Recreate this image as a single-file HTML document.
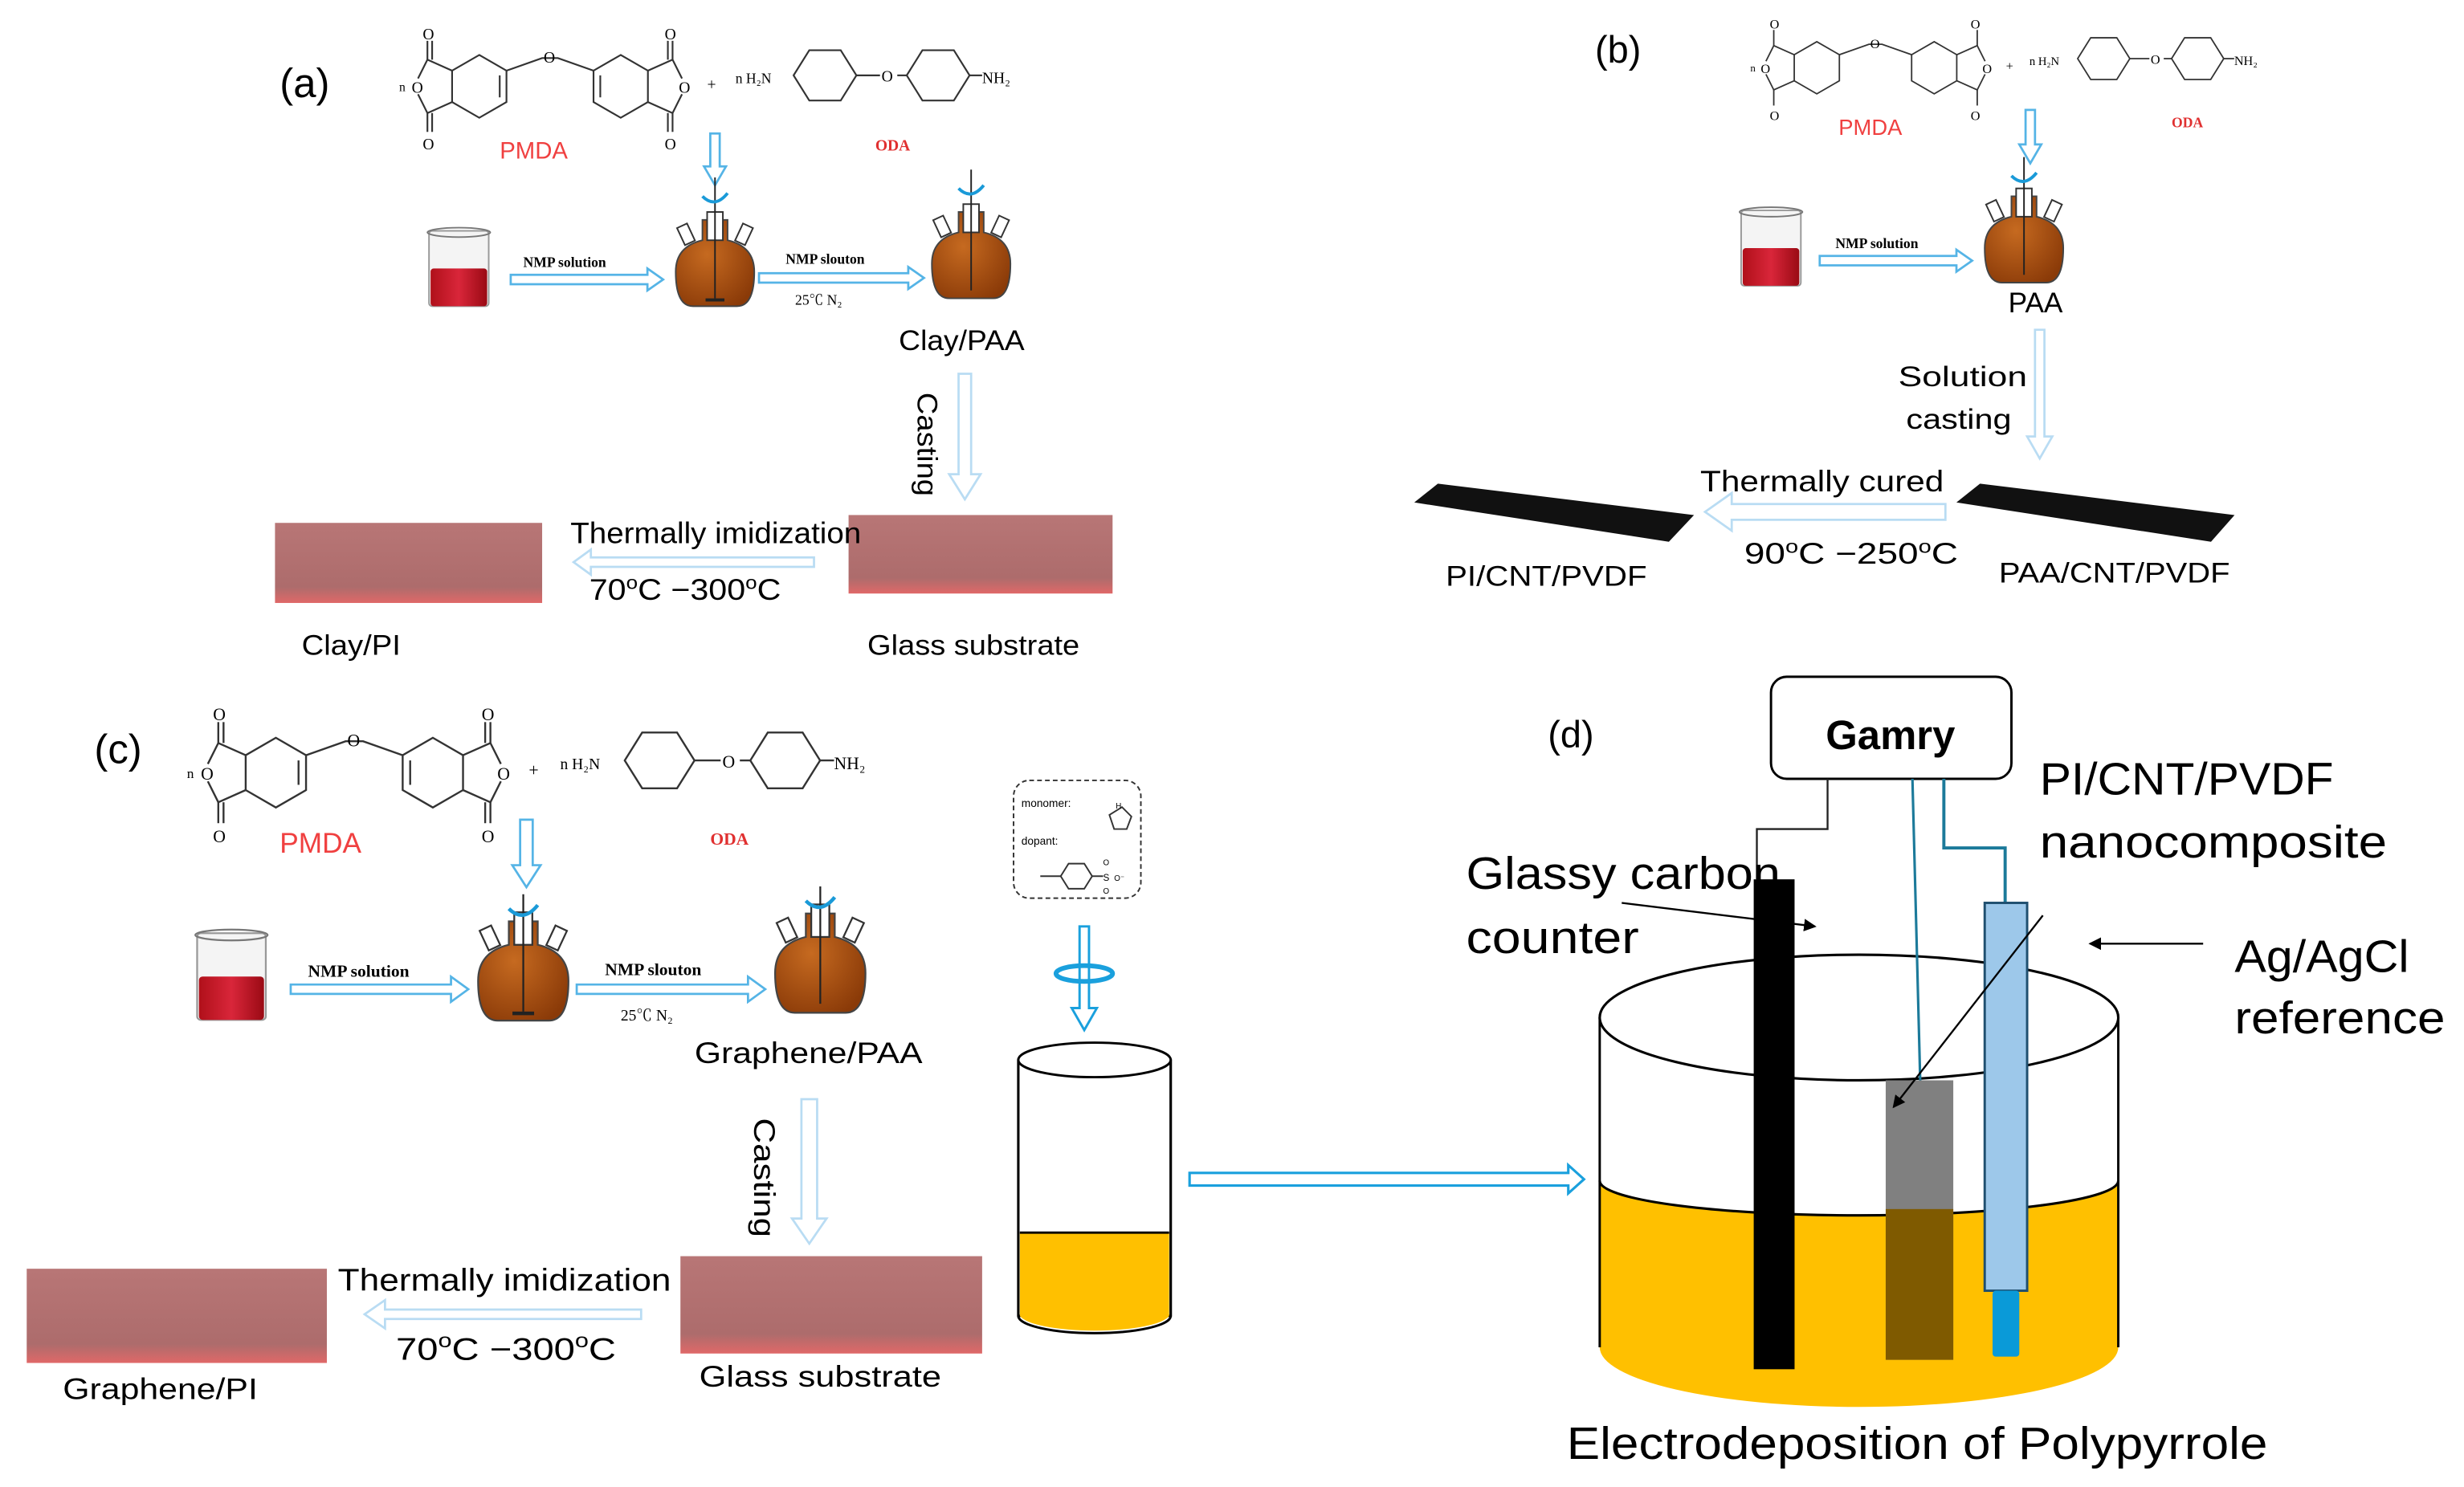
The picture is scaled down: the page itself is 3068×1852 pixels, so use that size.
<!DOCTYPE html>
<html><head><meta charset="utf-8"><style>
html,body{margin:0;padding:0;background:#fff;}
svg{display:block;}
text{font-family:"Liberation Sans","Noto Sans CJK SC",sans-serif;}
.ser{font-family:"Liberation Serif","Noto Serif CJK SC",serif;}
.ha{fill:#fff;stroke:#55b4e6;stroke-width:1.4;}
.hp{fill:#fff;stroke:#b9dcf3;stroke-width:1.4;}
.bd{fill:none;stroke:#333;stroke-width:1.1;}
</style></head><body>
<svg width="3068" height="1852" viewBox="0 0 1568 947" preserveAspectRatio="none" xmlns="http://www.w3.org/2000/svg">
<defs>
<linearGradient id="slab" x1="0" y1="0" x2="0" y2="1"><stop offset="0" stop-color="#b87676"/><stop offset="0.8" stop-color="#ad6c6c"/><stop offset="1" stop-color="#e06868"/></linearGradient>
<linearGradient id="red" x1="0" y1="0" x2="1" y2="0"><stop offset="0" stop-color="#b0101a"/><stop offset="0.5" stop-color="#d9263a"/><stop offset="1" stop-color="#9a0a14"/></linearGradient>
<radialGradient id="brown" cx="0.4" cy="0.4" r="0.7"><stop offset="0" stop-color="#c66a20"/><stop offset="1" stop-color="#8a3a08"/></radialGradient>
<marker id="ah" markerWidth="8" markerHeight="8" refX="7" refY="4" orient="auto" markerUnits="userSpaceOnUse"><path d="M0,0 L8,4 L0,8 z" fill="#000"/></marker>
</defs>

<!-- ================= PANEL (a) ================= -->
<text x="178" y="62" font-size="26">(a)</text>
<g>
<polygon class="bd" points="305,35 322.3,45 322.3,65 305,75 287.7,65 287.7,45"/>
<line class="bd" x1="318" y1="48" x2="318" y2="62"/>
<polygon class="bd" points="395,35 412.3,45 412.3,65 395,75 377.7,65 377.7,45"/>
<line class="bd" x1="382" y1="48" x2="382" y2="62"/>
<polyline class="bd" points="287.7,45 272,38 266,50"/>
<polyline class="bd" points="287.7,65 272,72 266,60"/>
<line class="bd" x1="272" y1="38" x2="272" y2="26"/><line class="bd" x1="275" y1="38" x2="275" y2="26"/>
<line class="bd" x1="272" y1="72" x2="272" y2="84"/><line class="bd" x1="275" y1="72" x2="275" y2="84"/>
<polyline class="bd" points="412.3,45 428,38 434,50"/>
<polyline class="bd" points="412.3,65 428,72 434,60"/>
<line class="bd" x1="428" y1="38" x2="428" y2="26"/><line class="bd" x1="425" y1="38" x2="425" y2="26"/>
<line class="bd" x1="428" y1="72" x2="428" y2="84"/><line class="bd" x1="425" y1="72" x2="425" y2="84"/>
<polyline class="bd" points="322.3,45 345,37 355,37 377.7,45"/>
<text x="346" y="40" font-size="10" class="ser">O</text>
<text x="269" y="25" font-size="10" class="ser">O</text>
<text x="269" y="95" font-size="10" class="ser">O</text>
<text x="423" y="25" font-size="10" class="ser">O</text>
<text x="423" y="95" font-size="10" class="ser">O</text>
<text x="262" y="59" font-size="10" class="ser">O</text>
<text x="432" y="59" font-size="10" class="ser">O</text>
<text x="254" y="58" font-size="8" class="ser">n</text>
<text x="450" y="57" font-size="10" class="ser">+</text>
<text x="468" y="53" font-size="9" class="ser">n  H₂N</text>
<polygon class="bd" points="505,48 515,32 535,32 545,48 535,64 515,64"/>
<polygon class="bd" points="577,48 587,32 607,32 617,48 607,64 587,64"/>
<line class="bd" x1="545" y1="48" x2="560" y2="48"/><line class="bd" x1="571" y1="48" x2="577" y2="48"/>
<text x="561" y="52" font-size="10" class="ser">O</text>
<line class="bd" x1="617" y1="48" x2="625" y2="48"/>
<text x="625" y="53" font-size="10" class="ser">NH₂</text>
</g>
<text x="318" y="101" font-size="15" fill="#f04040">PMDA</text>
<text x="557" y="96" font-size="10" fill="#e03030" font-weight="bold" class="ser">ODA</text>
<polygon class="ha" points="452,85 458,85 458,106 462,106 455,118 448,106 452,106"/>
<g transform="translate(270,145)">
<rect x="3" y="2" width="38" height="48" fill="#f4f4f4" stroke="#999" stroke-width="1" rx="2"/>
<ellipse cx="22" cy="3" rx="20" ry="3" fill="none" stroke="#777"/>
<rect x="4" y="26" width="36" height="24" fill="url(#red)" rx="2"/>
</g>
<polygon class="ha" points="325,175 412,175 412,171 422,178 412,185 412,181 325,181"/>
<text x="333" y="170" font-size="9" font-weight="bold" class="ser">NMP solution</text>
<g transform="translate(455,195)">
<path d="M-25,-22 Q-25,0 -14,0 L14,0 Q25,0 25,-22 Q25,-38 8,-42 L8,-55 L-8,-55 L-8,-42 Q-25,-38 -25,-22 Z" fill="url(#brown)" stroke="#444"/>
<rect x="-5" y="-60" width="10" height="18" fill="#fff" stroke="#333"/>
<rect x="-22" y="-52" width="7" height="12" fill="#fff" stroke="#333" transform="rotate(-25 -18 -46)"/>
<rect x="15" y="-52" width="7" height="12" fill="#fff" stroke="#333" transform="rotate(25 18 -46)"/>
<line x1="0" y1="-82" x2="0" y2="-5" stroke="#222"/>
<line x1="-6" y1="-4" x2="6" y2="-4" stroke="#222" stroke-width="2"/>
<path d="M-8,-70 Q0,-62 8,-72" fill="none" stroke="#1a9ad8" stroke-width="2"/>
</g>
<polygon class="ha" points="483,174 578,174 578,170 588,177 578,184 578,180 483,180"/>
<text x="500" y="168" font-size="9" font-weight="bold" class="ser">NMP slouton</text>
<text x="506" y="194" font-size="9" class="ser">25℃    N₂</text>
<g transform="translate(618,190)">
<path d="M-25,-22 Q-25,0 -14,0 L14,0 Q25,0 25,-22 Q25,-38 8,-42 L8,-55 L-8,-55 L-8,-42 Q-25,-38 -25,-22 Z" fill="url(#brown)" stroke="#444"/>
<rect x="-5" y="-60" width="10" height="18" fill="#fff" stroke="#333"/>
<rect x="-22" y="-52" width="7" height="12" fill="#fff" stroke="#333" transform="rotate(-25 -18 -46)"/>
<rect x="15" y="-52" width="7" height="12" fill="#fff" stroke="#333" transform="rotate(25 18 -46)"/>
<line x1="0" y1="-82" x2="0" y2="-5" stroke="#222"/>
<path d="M-8,-70 Q0,-62 8,-72" fill="none" stroke="#1a9ad8" stroke-width="2"/>
</g>
<text x="572" y="223" font-size="18" textLength="80" lengthAdjust="spacingAndGlyphs">Clay/PAA</text>
<polygon class="hp" points="610,238 618,238 618,302 624,302 614,318 604,302 610,302"/>
<text x="0" y="0" font-size="18" transform="translate(584,250) rotate(90)" textLength="66" lengthAdjust="spacingAndGlyphs">Casting</text>
<rect x="540" y="328" width="168" height="50" fill="url(#slab)"/>
<rect x="175" y="333" width="170" height="51" fill="url(#slab)"/>
<polygon class="hp" points="518,355 376,355 376,350 365,358 376,366 376,361 518,361"/>
<text x="363" y="346" font-size="19" textLength="185" lengthAdjust="spacingAndGlyphs">Thermally imidization</text>
<text x="375" y="382" font-size="19" textLength="122" lengthAdjust="spacingAndGlyphs">70<tspan font-size="12" dy="-7">o</tspan><tspan dy="7">C −300</tspan><tspan font-size="12" dy="-7">o</tspan><tspan dy="7">C</tspan></text>
<text x="192" y="417" font-size="18" textLength="63" lengthAdjust="spacingAndGlyphs">Clay/PI</text>
<text x="552" y="417" font-size="18" textLength="135" lengthAdjust="spacingAndGlyphs">Glass substrate</text>

<!-- ================= PANEL (b) ================= -->
<text x="1015" y="40" font-size="24">(b)</text>
<g transform="translate(903,-2.5) scale(0.83)">
<polygon class="bd" points="305,35 322.3,45 322.3,65 305,75 287.7,65 287.7,45"/>
<polygon class="bd" points="395,35 412.3,45 412.3,65 395,75 377.7,65 377.7,45"/>
<polyline class="bd" points="287.7,45 272,38 266,50"/><polyline class="bd" points="287.7,65 272,72 266,60"/>
<line class="bd" x1="272" y1="38" x2="272" y2="26"/><line class="bd" x1="272" y1="72" x2="272" y2="84"/>
<polyline class="bd" points="412.3,45 428,38 434,50"/><polyline class="bd" points="412.3,65 428,72 434,60"/>
<line class="bd" x1="428" y1="38" x2="428" y2="26"/><line class="bd" x1="428" y1="72" x2="428" y2="84"/>
<polyline class="bd" points="322.3,45 345,37 355,37 377.7,45"/>
<text x="346" y="40" font-size="10" class="ser">O</text><text x="269" y="25" font-size="10" class="ser">O</text><text x="269" y="95" font-size="10" class="ser">O</text><text x="423" y="25" font-size="10" class="ser">O</text><text x="423" y="95" font-size="10" class="ser">O</text><text x="262" y="59" font-size="10" class="ser">O</text><text x="432" y="59" font-size="10" class="ser">O</text>
<text x="254" y="58" font-size="8" class="ser">n</text><text x="450" y="57" font-size="10" class="ser">+</text>
<text x="468" y="53" font-size="9" class="ser">n  H₂N</text>
<polygon class="bd" points="505,48 515,32 535,32 545,48 535,64 515,64"/><polygon class="bd" points="577,48 587,32 607,32 617,48 607,64 587,64"/>
<line class="bd" x1="545" y1="48" x2="560" y2="48"/><line class="bd" x1="571" y1="48" x2="577" y2="48"/><text x="561" y="52" font-size="10" class="ser">O</text>
<line class="bd" x1="617" y1="48" x2="625" y2="48"/><text x="625" y="53" font-size="10" class="ser">NH₂</text>
</g>
<text x="1170" y="86" font-size="14" fill="#f04040">PMDA</text>
<text x="1382" y="81" font-size="9" fill="#e03030" font-weight="bold" class="ser">ODA</text>
<polygon class="ha" points="1289,70 1295,70 1295,92 1299,92 1292,104 1285,92 1289,92"/>
<g transform="translate(1105,132)">
<rect x="3" y="2" width="38" height="48" fill="#f4f4f4" stroke="#999" stroke-width="1" rx="2"/>
<ellipse cx="22" cy="3" rx="20" ry="3" fill="none" stroke="#777"/>
<rect x="4" y="26" width="36" height="24" fill="url(#red)" rx="2"/>
</g>
<polygon class="ha" points="1158,163 1245,163 1245,159 1255,166 1245,173 1245,169 1158,169"/>
<text x="1168" y="158" font-size="9" font-weight="bold" class="ser">NMP solution</text>
<g transform="translate(1288,180)">
<path d="M-25,-22 Q-25,0 -14,0 L14,0 Q25,0 25,-22 Q25,-38 8,-42 L8,-55 L-8,-55 L-8,-42 Q-25,-38 -25,-22 Z" fill="url(#brown)" stroke="#444"/>
<rect x="-5" y="-60" width="10" height="18" fill="#fff" stroke="#333"/>
<rect x="-22" y="-52" width="7" height="12" fill="#fff" stroke="#333" transform="rotate(-25 -18 -46)"/>
<rect x="15" y="-52" width="7" height="12" fill="#fff" stroke="#333" transform="rotate(25 18 -46)"/>
<line x1="0" y1="-80" x2="0" y2="-5" stroke="#222"/>
<path d="M-8,-68 Q0,-60 8,-70" fill="none" stroke="#1a9ad8" stroke-width="2"/>
</g>
<text x="1278" y="199" font-size="18">PAA</text>
<text x="1208" y="246" font-size="18" textLength="82" lengthAdjust="spacingAndGlyphs">Solution</text>
<text x="1213" y="273" font-size="18" textLength="67" lengthAdjust="spacingAndGlyphs">casting</text>
<polygon class="hp" points="1295,210 1301,210 1301,278 1306,278 1298,292 1290,278 1295,278"/>
<polygon points="900,320 915,308 1078,328 1062,345" fill="#111"/>
<polygon points="1245,320 1260,308 1422,328 1407,345" fill="#111"/>
<polygon class="hp" points="1238,321 1102,321 1102,314 1085,326 1102,338 1102,331 1238,331"/>
<text x="1082" y="313" font-size="19" textLength="155" lengthAdjust="spacingAndGlyphs">Thermally cured</text>
<text x="1110" y="359" font-size="19" textLength="136" lengthAdjust="spacingAndGlyphs">90<tspan font-size="12" dy="-7">o</tspan><tspan dy="7">C −250</tspan><tspan font-size="12" dy="-7">o</tspan><tspan dy="7">C</tspan></text>
<text x="920" y="373" font-size="18" textLength="128" lengthAdjust="spacingAndGlyphs">PI/CNT/PVDF</text>
<text x="1272" y="371" font-size="18" textLength="147" lengthAdjust="spacingAndGlyphs">PAA/CNT/PVDF</text>

<!-- ================= PANEL (c) ================= -->
<text x="60" y="486" font-size="26">(c)</text>
<g transform="translate(-163,431) scale(1.11)">
<polygon class="bd" points="305,35 322.3,45 322.3,65 305,75 287.7,65 287.7,45"/>
<line class="bd" x1="318" y1="48" x2="318" y2="62"/>
<polygon class="bd" points="395,35 412.3,45 412.3,65 395,75 377.7,65 377.7,45"/>
<line class="bd" x1="382" y1="48" x2="382" y2="62"/>
<polyline class="bd" points="287.7,45 272,38 266,50"/><polyline class="bd" points="287.7,65 272,72 266,60"/>
<line class="bd" x1="272" y1="38" x2="272" y2="26"/><line class="bd" x1="275" y1="38" x2="275" y2="26"/>
<line class="bd" x1="272" y1="72" x2="272" y2="84"/><line class="bd" x1="275" y1="72" x2="275" y2="84"/>
<polyline class="bd" points="412.3,45 428,38 434,50"/><polyline class="bd" points="412.3,65 428,72 434,60"/>
<line class="bd" x1="428" y1="38" x2="428" y2="26"/><line class="bd" x1="425" y1="38" x2="425" y2="26"/>
<line class="bd" x1="428" y1="72" x2="428" y2="84"/><line class="bd" x1="425" y1="72" x2="425" y2="84"/>
<polyline class="bd" points="322.3,45 345,37 355,37 377.7,45"/>
<text x="346" y="40" font-size="10" class="ser">O</text><text x="269" y="25" font-size="10" class="ser">O</text><text x="269" y="95" font-size="10" class="ser">O</text><text x="423" y="25" font-size="10" class="ser">O</text><text x="423" y="95" font-size="10" class="ser">O</text><text x="262" y="59" font-size="10" class="ser">O</text><text x="432" y="59" font-size="10" class="ser">O</text>
<text x="254" y="58" font-size="8" class="ser">n</text><text x="450" y="57" font-size="10" class="ser">+</text>
<text x="468" y="53" font-size="9" class="ser">n  H₂N</text>
<polygon class="bd" points="505,48 515,32 535,32 545,48 535,64 515,64"/><polygon class="bd" points="577,48 587,32 607,32 617,48 607,64 587,64"/>
<line class="bd" x1="545" y1="48" x2="560" y2="48"/><line class="bd" x1="571" y1="48" x2="577" y2="48"/><text x="561" y="52" font-size="10" class="ser">O</text>
<line class="bd" x1="617" y1="48" x2="625" y2="48"/><text x="625" y="53" font-size="10" class="ser">NH₂</text>
</g>
<text x="178" y="543" font-size="18" fill="#f04040">PMDA</text>
<text x="452" y="538" font-size="11" fill="#e03030" font-weight="bold" class="ser">ODA</text>
<polygon class="ha" points="331,522 339,522 339,551 344,551 335,565 326,551 331,551"/>
<g transform="translate(122,592) scale(1.15)">
<rect x="3" y="2" width="38" height="48" fill="#f4f4f4" stroke="#999" stroke-width="1" rx="2"/>
<ellipse cx="22" cy="3" rx="20" ry="3" fill="none" stroke="#777"/>
<rect x="4" y="26" width="36" height="24" fill="url(#red)" rx="2"/>
</g>
<polygon class="ha" points="185,627 287,627 287,622 298,630 287,638 287,633 185,633"/>
<text x="196" y="622" font-size="11" font-weight="bold" class="ser">NMP solution</text>
<g transform="translate(333,650) scale(1.15)">
<path d="M-25,-22 Q-25,0 -14,0 L14,0 Q25,0 25,-22 Q25,-38 8,-42 L8,-55 L-8,-55 L-8,-42 Q-25,-38 -25,-22 Z" fill="url(#brown)" stroke="#444"/>
<rect x="-5" y="-60" width="10" height="18" fill="#fff" stroke="#333"/>
<rect x="-22" y="-52" width="7" height="12" fill="#fff" stroke="#333" transform="rotate(-25 -18 -46)"/>
<rect x="15" y="-52" width="7" height="12" fill="#fff" stroke="#333" transform="rotate(25 18 -46)"/>
<line x1="0" y1="-70" x2="0" y2="-5" stroke="#222"/>
<line x1="-6" y1="-4" x2="6" y2="-4" stroke="#222" stroke-width="2"/>
<path d="M-8,-62 Q0,-54 8,-64" fill="none" stroke="#1a9ad8" stroke-width="2"/>
</g>
<polygon class="ha" points="367,627 476,627 476,622 487,630 476,638 476,633 367,633"/>
<text x="385" y="621" font-size="11" font-weight="bold" class="ser">NMP slouton</text>
<text x="395" y="650" font-size="10" class="ser">25℃    N₂</text>
<g transform="translate(522,645) scale(1.15)">
<path d="M-25,-22 Q-25,0 -14,0 L14,0 Q25,0 25,-22 Q25,-38 8,-42 L8,-55 L-8,-55 L-8,-42 Q-25,-38 -25,-22 Z" fill="url(#brown)" stroke="#444"/>
<rect x="-5" y="-60" width="10" height="18" fill="#fff" stroke="#333"/>
<rect x="-22" y="-52" width="7" height="12" fill="#fff" stroke="#333" transform="rotate(-25 -18 -46)"/>
<rect x="15" y="-52" width="7" height="12" fill="#fff" stroke="#333" transform="rotate(25 18 -46)"/>
<line x1="0" y1="-70" x2="0" y2="-5" stroke="#222"/>
<path d="M-8,-62 Q0,-54 8,-64" fill="none" stroke="#1a9ad8" stroke-width="2"/>
</g>
<text x="442" y="677" font-size="19" textLength="145" lengthAdjust="spacingAndGlyphs">Graphene/PAA</text>
<polygon class="hp" points="510,700 520,700 520,776 526,776 515,792 504,776 510,776"/>
<text x="0" y="0" font-size="19" transform="translate(480,712) rotate(90)" textLength="76" lengthAdjust="spacingAndGlyphs">Casting</text>
<rect x="17" y="808" width="191" height="60" fill="url(#slab)"/>
<rect x="433" y="800" width="192" height="62" fill="url(#slab)"/>
<polygon class="hp" points="408,834 245,834 245,828 232,837 245,846 245,840 408,840"/>
<text x="215" y="822" font-size="20" textLength="212" lengthAdjust="spacingAndGlyphs">Thermally imidization</text>
<text x="252" y="866" font-size="20" textLength="140" lengthAdjust="spacingAndGlyphs">70<tspan font-size="13" dy="-8">o</tspan><tspan dy="8">C −300</tspan><tspan font-size="13" dy="-8">o</tspan><tspan dy="8">C</tspan></text>
<text x="40" y="891" font-size="19" textLength="124" lengthAdjust="spacingAndGlyphs">Graphene/PI</text>
<text x="445" y="883" font-size="19" textLength="154" lengthAdjust="spacingAndGlyphs">Glass substrate</text>

<!-- monomer box -->
<rect x="645" y="497" width="81" height="75" rx="10" fill="#fff" stroke="#333" stroke-dasharray="3,2"/>
<text x="650" y="514" font-size="7">monomer:</text>
<text x="650" y="538" font-size="7">dopant:</text>
<polygon points="706,519 714,514 720,520 717,528 709,528" fill="none" stroke="#333"/>
<text x="710" y="515" font-size="5">H</text>
<polygon points="675,558 680,550 690,550 695,558 690,566 680,566" fill="none" stroke="#333"/>
<line x1="662" y1="558" x2="675" y2="558" stroke="#333"/>
<line x1="695" y1="558" x2="702" y2="558" stroke="#333"/>
<text x="702" y="561" font-size="6">S</text><text x="702" y="551" font-size="5">O</text><text x="702" y="569" font-size="5">O</text><text x="709" y="561" font-size="5">O⁻</text>
<polygon points="687,590 693,590 693,642 698,642 690,656 682,642 687,642" fill="#fff" stroke="#1aa0dd" stroke-width="1.5"/>
<ellipse cx="690" cy="620" rx="18" ry="5" fill="none" stroke="#1aa0dd" stroke-width="3"/>
<rect x="648" y="675" width="97" height="163" fill="#fff" stroke="#000" stroke-width="1.5"/>
<path d="M649,785 L744,785 L744,838 A48,11 0 0 1 649,838 Z" fill="#ffc000"/>
<line x1="649" y1="785" x2="744" y2="785" stroke="#000" stroke-width="1.5"/>
<path d="M648,675 L648,838 A48.5,11 0 0 0 745,838 L745,675" fill="none" stroke="#000" stroke-width="1.5"/>
<ellipse cx="696.5" cy="675" rx="48.5" ry="11" fill="#fff" stroke="#000" stroke-width="1.5"/>
<polygon points="757,747 998,747 998,742 1008,751 998,760 998,755 757,755" fill="#fff" stroke="#1aa0dd" stroke-width="1.6"/>

<!-- ================= PANEL (d) ================= -->
<text x="985" y="476" font-size="24">(d)</text>
<rect x="1127" y="431" width="153" height="65" rx="10" fill="#fff" stroke="#000" stroke-width="1.5"/>
<text x="1203" y="477" font-size="26" font-weight="bold" text-anchor="middle">Gamry</text>
<path d="M1018,648 L1018,858 A165,38 0 0 0 1348,858 L1348,648 Z" fill="#fff"/>
<path d="M1018,752 A165,22 0 0 0 1348,752 L1348,858 A165,38 0 0 1 1018,858 Z" fill="#ffc000"/>
<path d="M1018,752 A165,22 0 0 0 1348,752" fill="none" stroke="#000" stroke-width="1.6"/>
<line x1="1018" y1="648" x2="1018" y2="858" stroke="#000" stroke-width="1.5"/>
<line x1="1348" y1="648" x2="1348" y2="858" stroke="#000" stroke-width="1.5"/>
<ellipse cx="1183" cy="648" rx="165" ry="40" fill="#fff" stroke="#000" stroke-width="1.6"/>
<polyline points="1163,496 1163,528 1118,528 1118,560" fill="none" stroke="#222" stroke-width="1.2"/>
<line x1="1217" y1="496" x2="1222" y2="690" stroke="#1c7a9a" stroke-width="1.6"/>
<polyline points="1237,496 1237,540 1276,540 1276,575" fill="none" stroke="#1c7a9a" stroke-width="2"/>
<rect x="1116" y="560" width="26" height="312" fill="#000"/>
<rect x="1200" y="688" width="43" height="178" fill="#808080"/>
<rect x="1200" y="770" width="43" height="96" fill="#7f5a00"/>
<rect x="1263" y="575" width="27" height="247" fill="#9dc8ea" stroke="#1f4f6f" stroke-width="1.5"/>
<rect x="1268" y="822" width="17" height="42" fill="#0a9ad8" rx="2"/>
<text x="1298" y="506" font-size="29" textLength="187" lengthAdjust="spacingAndGlyphs">PI/CNT/PVDF</text>
<text x="1298" y="546" font-size="29" textLength="221" lengthAdjust="spacingAndGlyphs">nanocomposite</text>
<text x="933" y="566" font-size="29" textLength="200" lengthAdjust="spacingAndGlyphs">Glassy carbon</text>
<text x="933" y="607" font-size="29" textLength="110" lengthAdjust="spacingAndGlyphs">counter</text>
<text x="1422" y="619" font-size="29" textLength="111" lengthAdjust="spacingAndGlyphs">Ag/AgCl</text>
<text x="1422" y="658" font-size="29" textLength="134" lengthAdjust="spacingAndGlyphs">reference</text>
<text x="997" y="929" font-size="29" textLength="446" lengthAdjust="spacingAndGlyphs">Electrodeposition of Polypyrrole</text>
<line x1="1032" y1="575" x2="1155" y2="590" stroke="#000" stroke-width="1.2" marker-end="url(#ah)"/>
<line x1="1300" y1="583" x2="1205" y2="705" stroke="#000" stroke-width="1.2" marker-end="url(#ah)"/>
<line x1="1402" y1="601" x2="1330" y2="601" stroke="#000" stroke-width="1.2" marker-end="url(#ah)"/>
</svg>
</body></html>
